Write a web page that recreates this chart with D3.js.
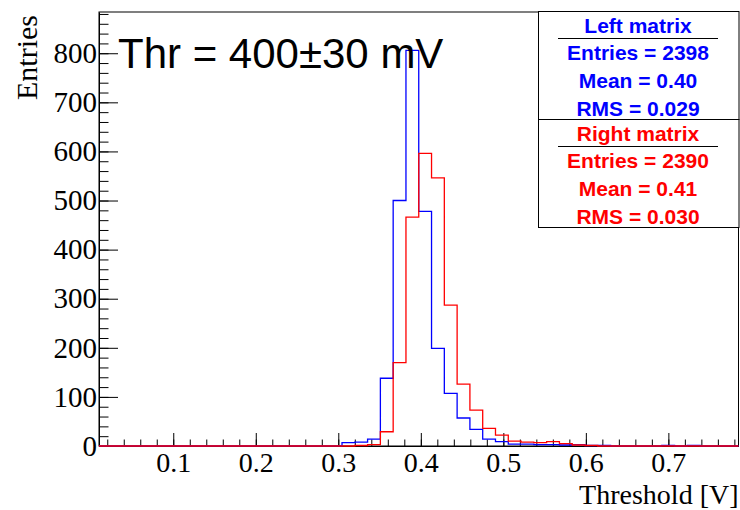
<!DOCTYPE html>
<html>
<head>
<meta charset="utf-8">
<script src="https://cdn.jsdelivr.net/npm/d3@7"></script>
<style>
    body { margin: 0; background: #ffffff; }
    svg { display: block; }
</style>
</head>
<body>
<div id="chart"></div>
<script>
// histogram binning (50 bins)
const xMin = 0.01;
const xMax = 0.785;
const nBins = 50;
const yMax = 884;

// counts per bin, left matrix (blue)
const leftCounts = [
    0, 0, 0, 0, 0, 0, 0, 0, 0, 0,
    0, 0, 0, 0, 0, 0, 0, 0, 0, 7,
    8, 14, 138, 500, 806, 478, 199, 107, 57, 34,
    14, 9, 4, 4, 3, 3, 2, 3, 1, 1,
    0, 0, 0, 0, 1, 0, 1, 0, 0, 0
];

// counts per bin, right matrix (red)
const rightCounts = [
    0, 0, 0, 0, 0, 0, 0, 0, 0, 0,
    0, 0, 0, 0, 0, 0, 0, 0, 0, 0,
    1, 3, 29, 170, 466, 596, 546, 287, 126, 73,
    36, 22, 10, 8, 7, 9, 5, 2, 1, 0,
    0, 0, 0, 0, 0, 0, 0, 0, 0, 0
];

const xTicks = [0.1, 0.2, 0.3, 0.4, 0.5, 0.6, 0.7];
const xMinorTicks = d3.range(2, 79, 2).map(d => d / 100);
const yTicks = [0, 100, 200, 300, 400, 500, 600, 700, 800];
const yMinorTicks = d3.range(0, 881, 20);

const leftStats = ["Left matrix", "Entries = 2398", "Mean = 0.40", "RMS = 0.029"];
const rightStats = ["Right matrix", "Entries = 2390", "Mean = 0.41", "RMS = 0.030"];

const titleText = "Thr = 400\u00b130 mV";
const xTitle = "Threshold [V]";
const yTitle = "Entries";

const width = 740;
const height = 510;
const frame = { left: 99, right: 738.5, top: 12, bottom: 446 };
const serif = "'Liberation Serif', 'Times New Roman', serif";
const sans = "'Liberation Sans', Arial, sans-serif";

const svg = d3.select("#chart")
    .append("svg")
    .attr("width", width)
    .attr("height", height);

const x = d3.scaleLinear()
    .domain([xMin, xMax])
    .range([frame.left, frame.right]);

const y = d3.scaleLinear()
    .domain([0, yMax])
    .range([frame.bottom, frame.top]);

// frame
svg.append("rect")
    .attr("x", frame.left)
    .attr("y", frame.top)
    .attr("width", frame.right - frame.left)
    .attr("height", frame.bottom - frame.top)
    .attr("fill", "none")
    .attr("stroke", "#000000")
    .attr("stroke-width", 1);

// x axis, major ticks pointing inwards
svg.append("g")
    .attr("transform", `translate(0,${frame.bottom})`)
    .call(d3.axisBottom(x).tickValues(xTicks).tickSizeInner(-13).tickSizeOuter(0)
        .tickPadding(6.5).tickFormat(d3.format(".1f")))
    .call(g => g.select(".domain").attr("stroke", "#000000"))
    .call(g => g.selectAll(".tick line").attr("stroke", "#000000"))
    .call(g => g.selectAll(".tick text")
        .attr("fill", "#000000")
        .attr("font-family", serif)
        .attr("font-size", "28px"));

// x minor ticks
svg.append("g")
    .attr("transform", `translate(0,${frame.bottom})`)
    .call(d3.axisBottom(x).tickValues(xMinorTicks).tickSizeInner(-6.5).tickSizeOuter(0).tickFormat(""))
    .call(g => g.select(".domain").remove())
    .call(g => g.selectAll(".tick line").attr("stroke", "#000000"));

// y axis
svg.append("g")
    .attr("transform", `translate(${frame.left},0)`)
    .call(d3.axisLeft(y).tickValues(yTicks).tickSizeInner(-19).tickSizeOuter(0).tickPadding(2))
    .call(g => g.select(".domain").attr("stroke", "#000000"))
    .call(g => g.selectAll(".tick line").attr("stroke", "#000000"))
    .call(g => g.selectAll(".tick text")
        .attr("fill", "#000000")
        .attr("font-family", serif)
        .attr("font-size", "29px"));

// y minor ticks
svg.append("g")
    .attr("transform", `translate(${frame.left},0)`)
    .call(d3.axisLeft(y).tickValues(yMinorTicks).tickSizeInner(-9.5).tickSizeOuter(0).tickFormat(""))
    .call(g => g.select(".domain").remove())
    .call(g => g.selectAll(".tick line").attr("stroke", "#000000"));

// axis titles (right aligned like ROOT)
svg.append("text")
    .attr("x", frame.right)
    .attr("y", 503.7)
    .attr("text-anchor", "end")
    .attr("font-family", serif)
    .attr("font-size", "28px")
    .attr("fill", "#000000")
    .text(xTitle);

svg.append("text")
    .attr("transform", `translate(37,15) rotate(-90)`)
    .attr("text-anchor", "end")
    .attr("font-family", serif)
    .attr("font-size", "30px")
    .attr("fill", "#000000")
    .text(yTitle);

// step outline of a histogram
function histPath(counts) {
    const binWidth = (xMax - xMin) / nBins;
    const p = d3.path();
    p.moveTo(x(xMin), y(0));
    counts.forEach((c, i) => {
        const lo = xMin + i * binWidth;
        p.lineTo(x(lo), y(c));
        p.lineTo(x(lo + binWidth), y(c));
    });
    p.lineTo(x(xMax), y(0));
    return p.toString();
}

svg.append("path")
    .attr("d", histPath(leftCounts))
    .attr("fill", "none")
    .attr("stroke", "#0000ff")
    .attr("stroke-width", 1.3);

svg.append("path")
    .attr("d", histPath(rightCounts))
    .attr("fill", "none")
    .attr("stroke", "#ff0000")
    .attr("stroke-width", 1.3);

// stat boxes
function statBox(lines, top, color) {
    const boxX = 538.5, boxW = 200.5, boxH = 108;
    const g = svg.append("g");
    g.append("rect")
        .attr("x", boxX)
        .attr("y", top)
        .attr("width", boxW)
        .attr("height", boxH)
        .attr("fill", "#ffffff")
        .attr("stroke", "#000000")
        .attr("stroke-width", 1);
    g.append("line")
        .attr("x1", 558)
        .attr("x2", 718)
        .attr("y1", top + 27)
        .attr("y2", top + 27)
        .attr("stroke", "#000000")
        .attr("stroke-width", 1);
    g.selectAll("text")
        .data(lines)
        .enter()
        .append("text")
        .attr("x", 638)
        .attr("y", (d, i) => top + 21 + i * 27.8)
        .attr("text-anchor", "middle")
        .attr("font-family", sans)
        .attr("font-weight", "bold")
        .attr("font-size", "21px")
        .attr("fill", color)
        .text(d => d);
}
statBox(leftStats, 11.5, "#0000ff");
statBox(rightStats, 119.5, "#ff0000");

// threshold label
svg.append("text")
    .attr("x", 118)
    .attr("y", 68)
    .attr("font-family", sans)
    .attr("font-size", "42px")
    .attr("fill", "#000000")
    .text(titleText);
</script>
</body>
</html>
